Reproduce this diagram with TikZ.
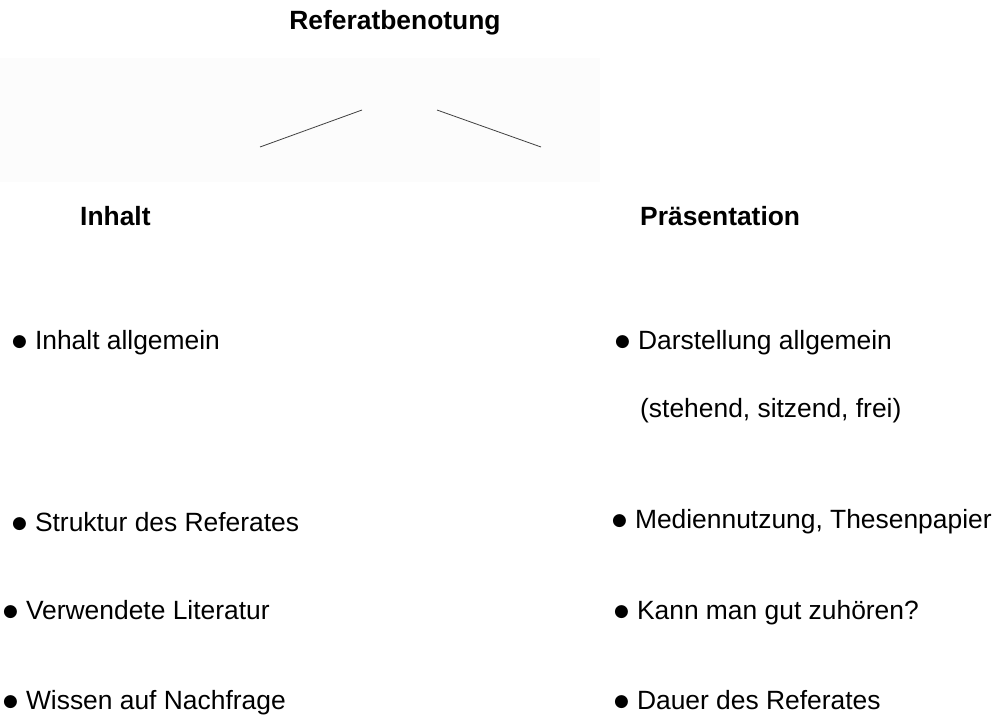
\documentclass[tikz,border=0pt]{standalone}
\usepackage{fontspec}
\setmainfont{Liberation Sans}
\newfontfamily\dejavu{DejaVu Sans}
\newcommand\bul{\raisebox{3pt}{\dejavu\fontsize{17}{17}\selectfont ●}\hspace{8pt}}
\tikzset{
	item/.style={anchor=base west,inner sep=0pt,font=\fontsize{26.4}{31}\selectfont},
	head/.style={item,font=\fontsize{26.4}{31}\selectfont\bfseries},
	branch/.style={black!75,line width=0.8pt}
}

\begin{document}
\begin{tikzpicture}[x=1pt,y=-1pt]
	\useasboundingbox (0,0) rectangle (999,726);
	\fill[black!1] (0,58) rectangle (600,182);

	\node[head,anchor=base] (titel) at (395,29) {Referatbenotung};

	% Aeste
	\coordinate (astL) at (362,110);
	\coordinate (astLend) at (260,147);
	\coordinate (astR) at (437,110);
	\coordinate (astRend) at (541,147);
	\draw[branch] (astL)--(astLend);
	\draw[branch] (astR)--(astRend);

	\def\headheight{225}
	\node[head] (inhalt) at (80,\headheight) {Inhalt};
	\node[head] (praes) at (640,\headheight) {Präsentation};

	% linke Spalte
	\node[item] (i1) at (12,349) {\bul Inhalt allgemein};
	\node[item] (i2) at (12,531) {\bul Struktur des Referates};
	\node[item] (i3) at (3,619) {\bul Verwendete Literatur};
	\node[item] (i4) at (3,709) {\bul Wissen auf Nachfrage};

	% rechte Spalte
	\node[item] (p1) at (615,349) {\bul Darstellung allgemein};
	\node[item] (p1b) at (640,417) {(stehend, sitzend, frei)};
	\node[item] (p2) at (612,528) {\bul Mediennutzung, Thesenpapier};
	\node[item] (p3) at (614,619) {\bul Kann man gut zuhören?};
	\node[item] (p4) at (614,709) {\bul Dauer des Referates};
\end{tikzpicture}
\end{document}
